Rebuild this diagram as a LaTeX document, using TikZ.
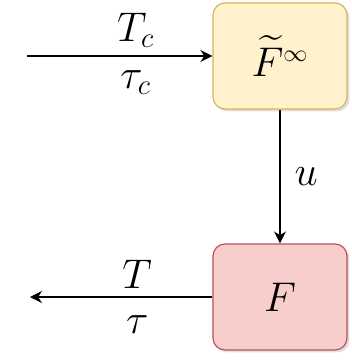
\documentclass[tikz,border=0pt]{standalone}
\usepackage{amsmath,amssymb}
\usetikzlibrary{arrows.meta,positioning,shadows}
\definecolor{ctrlfill}{HTML}{FFF2CC}
\definecolor{ctrlline}{HTML}{D6B656}
\definecolor{plantfill}{HTML}{F8CECC}
\definecolor{plantline}{HTML}{B85450}

\begin{document}
\begin{tikzpicture}[
    x=0.5pt,y=-0.5pt,
    blk/.style={rectangle,draw,rounded corners=6pt,minimum width=67pt,minimum height=53pt,line width=0.6pt,font=\huge,
        drop shadow={opacity=0.25,shadow xshift=1.2pt,shadow yshift=-1.2pt}},
    arr/.style={-{Stealth[length=6pt,width=6pt]},line width=0.7pt},
    lbl/.style={font=\huge,inner sep=1pt}
]
\useasboundingbox (0,0) rectangle (352,361);
\node[blk,fill=ctrlfill,draw=ctrlline] (ctrl) at (280,56) {$\widetilde{F}^{\scriptscriptstyle\infty}$};
\node[blk,fill=plantfill,draw=plantline] (plant) at (280,297) {$F$};
\coordinate (cin) at (27,56);
\coordinate (pout) at (30,297);

\draw[arr] (cin) -- node[lbl,above=3pt,xshift=8pt]{$T_c$} node[lbl,below=6pt,xshift=8pt]{$\tau_c$} (ctrl);
\draw[arr] (ctrl) -- node[lbl,right=6pt]{$u$} (plant);
\draw[arr] (plant) -- node[lbl,above=3pt,xshift=8pt]{$T$} node[lbl,below=8pt,xshift=8pt]{$\tau$} (pout);
\end{tikzpicture}
\end{document}
